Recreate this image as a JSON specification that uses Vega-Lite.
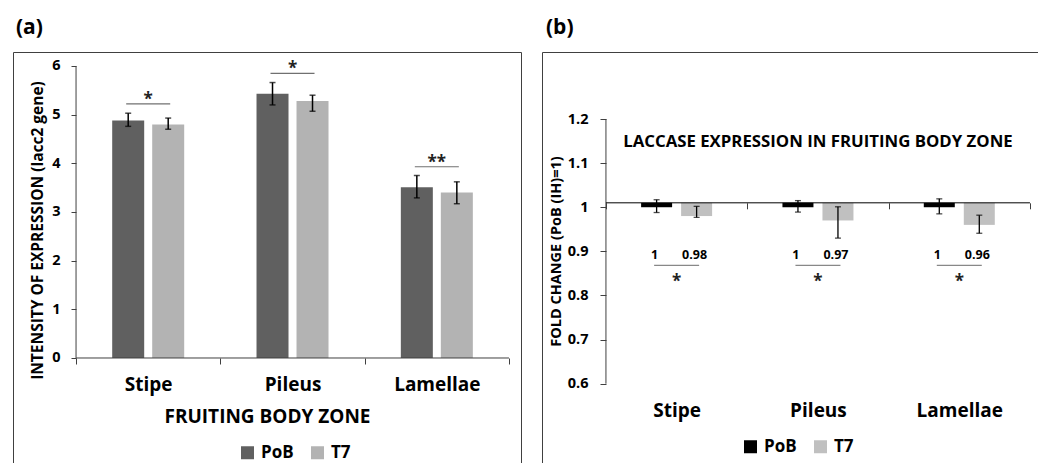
{
  "$schema": "https://vega.github.io/schema/vega-lite/v6.json",
  "padding": {"left": 12, "top": 16, "right": 0, "bottom": 0},
  "background": "white",
  "spacing": 19,
  "config": {
    "font": "Open Sans",
    "view": {"stroke": "#404040", "strokeWidth": 1},
    "title": {"fontSize": 21, "fontWeight": "bold", "anchor": "start", "baseline": "alphabetic", "offset": 14, "color": "black", "frame": "group"},
    "axis": {"grid": false, "labelColor": "black", "titleColor": "black", "tickColor": "#404040", "labelFontWeight": "bold", "titleFontWeight": "bold"}
  },
  "datasets": {
    "left": [
      {"zone": "Stipe", "group": "PoB", "value": 4.88, "lo": 4.76, "hi": 5.03},
      {"zone": "Stipe", "group": "T7", "value": 4.80, "lo": 4.70, "hi": 4.93},
      {"zone": "Pileus", "group": "PoB", "value": 5.43, "lo": 5.20, "hi": 5.66},
      {"zone": "Pileus", "group": "T7", "value": 5.28, "lo": 5.07, "hi": 5.40},
      {"zone": "Lamellae", "group": "PoB", "value": 3.51, "lo": 3.29, "hi": 3.75},
      {"zone": "Lamellae", "group": "T7", "value": 3.40, "lo": 3.17, "hi": 3.62}
    ],
    "leftSig": [
      {"zone": "Stipe", "line": 5.22, "star": 5.36, "txt": "*"},
      {"zone": "Pileus", "line": 5.85, "star": 5.99, "txt": "*"},
      {"zone": "Lamellae", "line": 3.93, "star": 4.07, "txt": "**"}
    ],
    "right": [
      {"zone": "Stipe", "group": "PoB", "value": 1.00, "lo": 0.988, "hi": 1.017, "label": "1"},
      {"zone": "Stipe", "group": "T7", "value": 0.98, "lo": 0.977, "hi": 1.002, "label": "0.98"},
      {"zone": "Pileus", "group": "PoB", "value": 1.00, "lo": 0.989, "hi": 1.015, "label": "1"},
      {"zone": "Pileus", "group": "T7", "value": 0.97, "lo": 0.930, "hi": 1.001, "label": "0.97"},
      {"zone": "Lamellae", "group": "PoB", "value": 1.00, "lo": 0.985, "hi": 1.019, "label": "1"},
      {"zone": "Lamellae", "group": "T7", "value": 0.96, "lo": 0.941, "hi": 0.982, "label": "0.96"}
    ],
    "rightSig": [
      {"zone": "Stipe", "txt": "*"},
      {"zone": "Pileus", "txt": "*"},
      {"zone": "Lamellae", "txt": "*"}
    ]
  },
  "hconcat": [
    {
      "width": 508,
      "height": 420,
      "title": {"text": "(a)", "dx": 3},
      "layer": [
        {
          "data": {"name": "left"},
          "mark": {"type": "bar"},
          "encoding": {
            "x": {"field": "zone", "type": "nominal",
              "scale": {"domain": ["Stipe", "Pileus", "Lamellae"], "paddingInner": 0, "paddingOuter": 0.26, "align": 0.84},
              "axis": {"orient": "bottom", "offset": -114, "domain": false, "tickBand": "extent", "tickSize": 6, "tickWidth": 1, "labelAngle": 0, "labelFontSize": 19, "labelPadding": 11, "title": "FRUITING BODY ZONE", "titleFontSize": 19, "titlePadding": 13}},
            "xOffset": {"field": "group", "type": "nominal", "scale": {"domain": ["PoB", "T7"], "paddingInner": 0.2, "paddingOuter": 0.904}},
            "y": {"field": "value", "type": "quantitative",
              "scale": {"domain": [-2.3425, 6.2876], "nice": false, "zero": false},
              "axis": {"offset": -63, "values": [0, 1, 2, 3, 4, 5, 6], "domain": false, "tickSize": 5, "labelFontSize": 14.5, "labelPadding": 11, "title": "INTENSITY OF  EXPRESSION (lacc2 gene)", "titleFontSize": 15.5, "titleX": -31, "titleY": 178, "titleAngle": -90, "titleBaseline": "bottom"}},
            "color": {"field": "group", "type": "nominal",
              "scale": {"domain": ["PoB", "T7"], "range": ["#606060", "#b3b3b3"]},
              "legend": {"orient": "none", "legendX": 226, "legendY": 392, "direction": "horizontal", "title": null, "symbolType": "square", "symbolSize": 169, "symbolStrokeWidth": 0, "labelFontSize": 17, "labelFontWeight": "bold", "labelColor": "black", "labelOffset": 5, "columnPadding": 15, "padding": 0}}
          }
        },
        {
          "data": {"name": "left"},
          "mark": {"type": "rule", "color": "black", "strokeWidth": 1.5},
          "encoding": {
            "x": {"field": "zone", "type": "nominal"},
            "xOffset": {"field": "group", "type": "nominal"},
            "y": {"field": "lo", "type": "quantitative"},
            "y2": {"field": "hi"}
          }
        },
        {
          "data": {"name": "left"},
          "mark": {"type": "tick", "color": "black", "thickness": 1.5, "size": 6, "orient": "horizontal"},
          "encoding": {
            "x": {"field": "zone", "type": "nominal"},
            "xOffset": {"field": "group", "type": "nominal"},
            "y": {"field": "lo", "type": "quantitative"}
          }
        },
        {
          "data": {"name": "left"},
          "mark": {"type": "tick", "color": "black", "thickness": 1.5, "size": 6, "orient": "horizontal"},
          "encoding": {
            "x": {"field": "zone", "type": "nominal"},
            "xOffset": {"field": "group", "type": "nominal"},
            "y": {"field": "hi", "type": "quantitative"}
          }
        },
        {
          "data": {"values": [{}]},
          "mark": {"type": "rule", "color": "#404040", "strokeWidth": 1},
          "encoding": {
            "x": {"datum": "Stipe", "bandPosition": 0},
            "y": {"datum": 0},
            "y2": {"datum": 6}
          }
        },
        {
          "data": {"values": [{}]},
          "mark": {"type": "rule", "color": "#404040", "strokeWidth": 1},
          "encoding": {
            "x": {"datum": "Stipe", "bandPosition": 0},
            "x2": {"datum": "Lamellae", "bandPosition": 1},
            "y": {"datum": 0}
          }
        },
        {
          "data": {"name": "leftSig"},
          "mark": {"type": "tick", "color": "#333333", "thickness": 1.2, "size": 44, "orient": "horizontal"},
          "encoding": {
            "x": {"field": "zone", "type": "nominal"},
            "y": {"field": "line", "type": "quantitative"}
          }
        },
        {
          "data": {"name": "leftSig"},
          "mark": {"type": "text", "fontSize": 17, "fontWeight": "bold", "baseline": "middle", "color": "#222222", "dy": 3},
          "encoding": {
            "x": {"field": "zone", "type": "nominal"},
            "y": {"field": "star", "type": "quantitative"},
            "text": {"field": "txt"}
          }
        }
      ]
    },
    {
      "width": 506,
      "height": 420,
      "title": {"text": "(b)", "dx": 4},
      "layer": [
        {
          "data": {"name": "right"},
          "mark": {"type": "bar"},
          "encoding": {
            "x": {"field": "zone", "type": "nominal",
              "scale": {"domain": ["Stipe", "Pileus", "Lamellae"], "paddingInner": 0, "paddingOuter": 0.29, "align": 0.78},
              "axis": {"orient": "bottom", "offset": -269.2, "domain": false, "tickBand": "extent", "tickSize": 6, "tickWidth": 1, "labelAngle": 0, "labelFontSize": 19, "labelPadding": 193, "title": null}},
            "xOffset": {"field": "group", "type": "nominal", "scale": {"domain": ["PoB", "T7"], "paddingInner": 0.225, "paddingOuter": 0.879}},
            "y": {"field": "value", "type": "quantitative",
              "scale": {"domain": [0.39985, 1.35187], "nice": false, "zero": false},
              "axis": {"offset": -64, "values": [0.6, 0.7, 0.8, 0.9, 1, 1.1, 1.2], "format": "~g", "domain": false, "tickSize": 6, "labelFontSize": 14.5, "labelPadding": 12, "title": "FOLD CHANGE (PoB (IH)=1)", "titleFontSize": 14.5, "titleX": -43, "titleY": 199, "titleAngle": -90, "titleBaseline": "bottom"}},
            "y2": {"datum": 1.01},
            "color": {"field": "group", "type": "nominal",
              "scale": {"domain": ["PoB", "T7"], "range": ["#000000", "#c0c0c0"]},
              "legend": {"orient": "none", "legendX": 200, "legendY": 386, "direction": "horizontal", "title": null, "symbolType": "square", "symbolSize": 169, "symbolStrokeWidth": 0, "labelFontSize": 17, "labelFontWeight": "bold", "labelColor": "black", "labelOffset": 5, "columnPadding": 15, "padding": 0}}
          }
        },
        {
          "data": {"name": "right"},
          "mark": {"type": "rule", "color": "black", "strokeWidth": 1.3},
          "encoding": {
            "x": {"field": "zone", "type": "nominal"},
            "xOffset": {"field": "group", "type": "nominal"},
            "y": {"field": "lo", "type": "quantitative"},
            "y2": {"field": "hi"}
          }
        },
        {
          "data": {"name": "right"},
          "mark": {"type": "tick", "color": "black", "thickness": 1.3, "size": 6, "orient": "horizontal"},
          "encoding": {
            "x": {"field": "zone", "type": "nominal"},
            "xOffset": {"field": "group", "type": "nominal"},
            "y": {"field": "lo", "type": "quantitative"}
          }
        },
        {
          "data": {"name": "right"},
          "mark": {"type": "tick", "color": "black", "thickness": 1.3, "size": 6, "orient": "horizontal"},
          "encoding": {
            "x": {"field": "zone", "type": "nominal"},
            "xOffset": {"field": "group", "type": "nominal"},
            "y": {"field": "hi", "type": "quantitative"}
          }
        },
        {
          "data": {"values": [{}]},
          "mark": {"type": "rule", "color": "#404040", "strokeWidth": 1},
          "encoding": {
            "x": {"datum": "Stipe", "bandPosition": 0},
            "y": {"datum": 0.6},
            "y2": {"datum": 1.2}
          }
        },
        {
          "data": {"values": [{}]},
          "mark": {"type": "rule", "color": "black", "strokeWidth": 1},
          "encoding": {
            "x": {"datum": "Stipe", "bandPosition": 0},
            "x2": {"datum": "Lamellae", "bandPosition": 1},
            "y": {"datum": 1.01}
          }
        },
        {
          "data": {"name": "right"},
          "mark": {"type": "text", "fontSize": 12.5, "fontWeight": "bold", "baseline": "middle", "color": "black", "dx": -2},
          "encoding": {
            "x": {"field": "zone", "type": "nominal"},
            "xOffset": {"field": "group", "type": "nominal"},
            "y": {"datum": 0.891},
            "text": {"field": "label"}
          }
        },
        {
          "data": {"name": "rightSig"},
          "mark": {"type": "tick", "color": "#555555", "thickness": 1.3, "size": 45, "orient": "horizontal"},
          "encoding": {
            "x": {"field": "zone", "type": "nominal"},
            "y": {"datum": 0.868}
          }
        },
        {
          "data": {"name": "rightSig"},
          "mark": {"type": "text", "fontSize": 17, "fontWeight": "bold", "baseline": "middle", "color": "#222222", "dy": 3},
          "encoding": {
            "x": {"field": "zone", "type": "nominal"},
            "y": {"datum": 0.838},
            "text": {"field": "txt"}
          }
        },
        {
          "data": {"values": [{"t": "LACCASE EXPRESSION IN FRUITING BODY ZONE"}]},
          "mark": {"type": "text", "fontSize": 16.8, "fontWeight": "bold", "baseline": "middle", "color": "black"},
          "encoding": {
            "x": {"datum": "Pileus"},
            "y": {"datum": 1.148},
            "text": {"field": "t"}
          }
        }
      ]
    }
  ],
  "resolve": {"scale": {"color": "independent", "x": "independent", "y": "independent", "xOffset": "independent"}, "legend": {"color": "independent"}}
}
